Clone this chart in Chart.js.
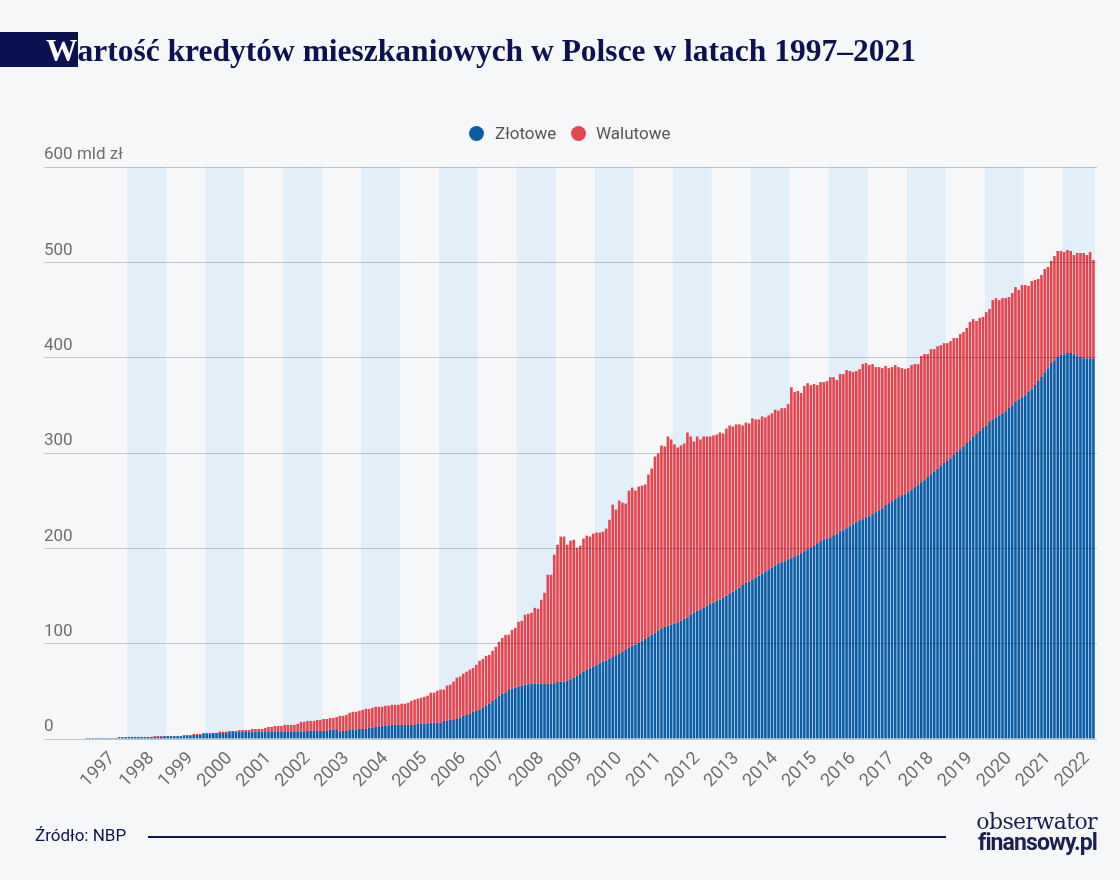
<!DOCTYPE html>
<html lang="pl">
<head>
<meta charset="utf-8">
<title>Wartość kredytów mieszkaniowych w Polsce w latach 1997–2021</title>
<script src="https://cdn.jsdelivr.net/npm/chart.js@4.4.1/dist/chart.umd.min.js"></script>
<style>
  html, body { margin: 0; padding: 0; background: #f6f7f9; }
  #page { position: relative; width: 1120px; height: 880px; overflow: hidden; background: #f6f7f9; }
  #chart { position: absolute; left: 0; top: 0; }
  .title { position: absolute; left: 0; top: 32px; height: 35px; line-height: 37px; font-family: 'Liberation Serif', serif; font-weight: bold; font-size: 31.5px; color: #0c1152; white-space: nowrap; }
  .title .cap { display: inline-block; height: 35px; background: #0c1152; color: #fff; padding-left: 46px; }
  .legend-dot { position: absolute; width: 15px; height: 15px; border-radius: 50%; top: 126px; }
  .legend-label { position: absolute; top: 123px; font-family: Roboto, sans-serif; font-size: 17px; color: #555; line-height: 20px; }
  .source { position: absolute; left: 35px; top: 825px; font-family: Roboto, sans-serif; font-size: 17px; color: #101545; line-height: 20px; }
  .rule { position: absolute; left: 148px; top: 836px; width: 798px; height: 1.5px; background: #101545; }
  .logo { position: absolute; right: 23px; top: 811px; text-align: right; color: #1b2050; line-height: 21px; }
  .logo .top { font-family: 'DejaVu Serif', serif; font-size: 22px; letter-spacing: -0.6px; }
  .logo .bottom { font-family: Roboto, sans-serif; font-weight: bold; font-size: 23px; letter-spacing: -0.9px; }
</style>
</head>
<body>
<div id="page">
  <canvas id="chart" width="1120" height="880"></canvas>
  <div class="title"><span class="cap">W</span>artość kredytów mieszkaniowych w Polsce w latach 1997–2021</div>
  <span class="legend-dot" style="left:469px;background:#0b5ea5"></span>
  <span class="legend-label" style="left:495px">Złotowe</span>
  <span class="legend-dot" style="left:571px;background:#e5454e"></span>
  <span class="legend-label" style="left:596px">Walutowe</span>
  <div class="source">Źródło: NBP</div>
  <div class="rule"></div>
  <div class="logo"><div class="top">obserwator</div><div class="bottom">finansowy.pl</div></div>
</div>
<script>
  // Monthly values in mld zł, from Dec 1996 to Oct 2022 (one row per year)
  const zlotowe = [
    1,
    1, 1, 1, 1, 1, 1, 1, 1, 1, 1.8, 2, 2,
    2, 2, 2, 2, 2, 2, 2, 2, 2.1, 2.1, 2.1, 3,
    3, 3, 3, 3, 3, 3.1, 3.1, 3.1, 4.2, 4.2, 4.2, 5.2,
    5.2, 5.2, 6.3, 6.3, 6.3, 6.3, 6.3, 7.3, 7.3, 7.3, 7.3, 7.3,
    7.3, 7.3, 7.3, 7.3, 7.3, 7.3, 7.3, 7.3, 7.4, 7.4, 7.4, 7.4,
    7.4, 7.4, 7.4, 7.4, 7.4, 7.4, 7.4, 8.5, 8.5, 8.5, 8.5, 8.5,
    8.5, 8.5, 9.5, 9.5, 9.5, 7.4, 8.5, 8.5, 9.5, 9.5, 9.5, 10.6,
    10.6, 10.6, 11.6, 11.6, 12.7, 12.7, 13.7, 13.7, 13.7, 14.8, 14.8, 14.8,
    14.8, 14.8, 14.8, 14.8, 14.8, 15.8, 15.8, 15.8, 15.8, 17, 17, 17,
    17, 19, 19, 20, 20, 21, 22.2, 24.2, 25.2, 26.3, 28.4, 29.4,
    30.5, 32.6, 34.7, 36.8, 40, 42, 45.2, 47.3, 48.3, 51.5, 52.9, 54,
    55, 56, 56.7, 57.4, 58.1, 58.1, 58.1, 58.1, 58.1, 57.8, 57.8, 58.5,
    59.9, 60, 60, 61, 62.7, 64.4, 66.2, 68.3, 70.8, 72.5, 74.2, 76,
    77.4, 79.5, 81.3, 82, 84, 86, 88, 89.5, 91.4, 93.5, 95.6, 97.7,
    98.8, 100.9, 103, 105, 107.2, 109.3, 111.4, 113.5, 115.6, 117.7, 118.7, 119.8,
    120.8, 121.9, 124, 126.1, 127.1, 130.3, 132.4, 134.5, 135.6, 137.7, 139.8, 141.9,
    142.9, 145, 146.1, 148.2, 150.3, 152.4, 154.5, 156.6, 158.7, 161.5, 163.6, 165,
    167, 169.2, 171.3, 173.4, 175.5, 177.6, 179.7, 182, 183.5, 185.4, 186.5, 188.6,
    189.6, 191.7, 192.8, 194.9, 197, 199.1, 201.2, 203.3, 205.4, 207.5, 209.6, 210.6,
    211.7, 213.8, 214.8, 218, 219, 221.1, 223.2, 225.3, 227.4, 229.5, 230.6, 232.7,
    233.7, 235.8, 237.9, 240, 242.1, 245.3, 247.4, 249.5, 251.6, 253.7, 255.8, 256.8,
    258.9, 261, 264.2, 266.3, 269.4, 271.5, 274.7, 277.8, 280.5, 283.5, 286.5, 289.4,
    291.5, 294.6, 297.8, 301, 304, 307.2, 310.4, 313.5, 317.7, 319.8, 323, 326.1,
    328.2, 332.4, 334.5, 337.6, 339.7, 341.8, 343.9, 347.1, 350.2, 353.4, 356.5, 358.6,
    360.7, 363.9, 367, 371.2, 375.4, 379.6, 384.8, 389, 394.3, 397.4, 400.6, 402.7,
    403.7, 404.8, 404.8, 403.7, 401.6, 400.6, 399.5, 399.5, 399.5, 398.5,
  ];

  const walutowe = [
    0,
    0, 0, 0, 0, 0, 0, 0, 0, 0, 0.4, 0.1, 0.1,
    0.2, 0.2, 0.2, 0.2, 0.2, 0.2, 0.2, 0.2, 1, 1, 1, 0.2,
    0.2, 0.2, 0.2, 0.2, 0.2, 1.1, 1.1, 1.1, 1, 1, 1, 1.1,
    1.1, 1.1, 0.1, 0.1, 1.4, 1.4, 1.4, 1.1, 1.1, 1.1, 2.1, 2.1,
    2.1, 2.1, 3.2, 3.2, 3.2, 3.2, 4.2, 5.3, 5.3, 6.3, 6.3, 6.3,
    7.4, 7.4, 7.4, 7.4, 8.4, 10.6, 10.6, 10.5, 10.5, 10.5, 11.5, 11.5,
    12.5, 12.5, 12.5, 12.5, 13.5, 16.9, 15.8, 16.9, 18, 19, 19, 19,
    20, 21.1, 20.1, 21.1, 21.1, 21.1, 20.1, 21.2, 21.2, 21.1, 21.1, 21.1,
    22.2, 22.2, 23.2, 25.2, 26.4, 26.5, 27.5, 28.5, 29.6, 31.6, 31.6, 33.7,
    34.8, 32.8, 37, 37, 40.2, 43.4, 43.3, 44.3, 45.4, 46.4, 46.2, 48.4,
    51.5, 51.4, 52.5, 51.5, 52.5, 54.7, 56.8, 58.7, 61, 57.8, 61.6, 62.6,
    68, 68, 73.6, 73.9, 74.3, 79.5, 78.5, 87.9, 95.3, 114.5, 114.5, 134.8,
    143.9, 152.3, 152.3, 142.8, 145.3, 144.6, 134.5, 134.5, 139.4, 140.8, 138.1, 139.4,
    139.1, 137, 136.2, 138.7, 146, 159.9, 152.6, 160.5, 156.6, 153.5, 165, 166,
    161.8, 163.9, 162.8, 162, 170.2, 174.4, 184.9, 186, 192.3, 189.1, 198.6, 194.4,
    188.2, 183.9, 183.9, 183.9, 194.4, 187, 179.6, 182.8, 178.6, 179.6, 177.5, 175.4,
    175.5, 174.4, 175.4, 172.3, 175.4, 176.5, 173.3, 173.4, 171.3, 167.4, 168.4, 166,
    169.3, 166, 163.9, 165, 161.8, 161.8, 161.8, 163.4, 161, 161.6, 160.5, 162.7,
    179.4, 172.3, 172.2, 168.1, 173.2, 174.2, 170, 169, 165.8, 166.9, 164.8, 164.8,
    167.9, 165.8, 161.7, 164.8, 163.8, 165.9, 162.8, 159.7, 158.6, 158.5, 162.7, 161.6,
    158.5, 157.5, 152.2, 150.1, 146.9, 145.9, 141.6, 140.6, 140.6, 136.4, 133.2, 131.2,
    130.1, 131.2, 129.1, 127, 132.3, 132.3, 129.1, 131.2, 128.5, 128.5, 126.5, 125.9,
    123.8, 122.8, 122.8, 119.6, 120.8, 119.7, 120.7, 123.9, 122.8, 118.6, 118.6, 116.5,
    119.6, 118.6, 125.9, 124.9, 120.7, 120.7, 118.6, 116.5, 117.6, 120.7, 114.5, 117.6,
    115.5, 111.3, 113.4, 110.3, 107.1, 107.1, 108.2, 106.1, 107.1, 109.2, 111.3, 109.2,
    107.1, 108.2, 107.1, 104, 108.2, 109.2, 110.3, 108.2, 111.3, 103.9,
  ];

  const yearLabels = [
    '1997', '1998', '1999', '2000', '2001', '2002', '2003', '2004', '2005',
    '2006', '2007', '2008', '2009', '2010', '2011', '2012', '2013', '2014',
    '2015', '2016', '2017', '2018', '2019', '2020', '2021', '2022',
  ];

  const colors = {
    zlotowe: '#0b5ea5',
    walutowe: '#e5454e',
    band: '#e3eff8',
    grid: 'rgba(0, 0, 0, 0.2)',
    text: '#6e6e6e',
  };

  // light blue background for every second year
  const yearBands = {
    id: 'yearBands',
    beforeDatasetsDraw(chart) {
      const { ctx, chartArea, scales } = chart;
      const x = scales.x;
      ctx.save();
      ctx.fillStyle = colors.band;
      yearLabels.forEach((year, k) => {
        if (k % 2 === 0) return;
        const first = k * 12 + 1;
        const last = Math.min(first + 11, zlotowe.length - 1);
        const left = x.getPixelForValue(first - 0.5);
        const right = x.getPixelForValue(last + 0.5);
        ctx.fillRect(left, chartArea.top, right - left, chartArea.bottom - chartArea.top);
      });
      ctx.restore();
    },
  };

  const toPoints = (values) => values.map((v, i) => ({ x: i, y: v }));

  new Chart(document.getElementById('chart'), {
    type: 'bar',
    data: {
      datasets: [
        {
          label: 'Złotowe',
          data: toPoints(zlotowe),
          backgroundColor: colors.zlotowe,
          borderWidth: 0,
          categoryPercentage: 0.8,
          barPercentage: 1,
        },
        {
          label: 'Walutowe',
          data: toPoints(walutowe),
          backgroundColor: colors.walutowe,
          borderWidth: 0,
          categoryPercentage: 0.8,
          barPercentage: 1,
        },
      ],
    },
    options: {
      responsive: false,
      animation: false,
      layout: { padding: { left: 44, right: 23, top: 167, bottom: 71 } },
      plugins: {
        legend: { display: false },
        tooltip: { enabled: false },
      },
      scales: {
        x: {
          type: 'linear',
          stacked: true,
          offset: false,
          min: -13.1,
          max: 311.1,
          grid: { display: false },
          border: { display: false },
          afterBuildTicks: (scale) => {
            scale.ticks = yearLabels.map((y, k) => ({ value: k * 12 + 8 }));
          },
          afterFit: (scale) => { scale.height = 70; },
          ticks: {
            autoSkip: false,
            minRotation: 45,
            maxRotation: 45,
            padding: 1,
            color: colors.text,
            font: { family: 'Roboto', size: 18 },
            callback: (value, index) => yearLabels[index],
          },
        },
        y: {
          stacked: true,
          min: 0,
          max: 600,
          border: { display: false },
          grid: { color: colors.grid, drawTicks: false, z: 1 },
          afterFit: (scale) => { scale.width = 0; },
          ticks: {
            stepSize: 100,
            mirror: true,
            padding: 0,
            labelOffset: -12,
            color: colors.text,
            font: { family: 'Roboto', size: 17 },
            callback: (value) => (value === 600 ? '600 mld zł' : value),
          },
        },
      },
    },
    plugins: [yearBands],
  });
</script>
</body>
</html>
